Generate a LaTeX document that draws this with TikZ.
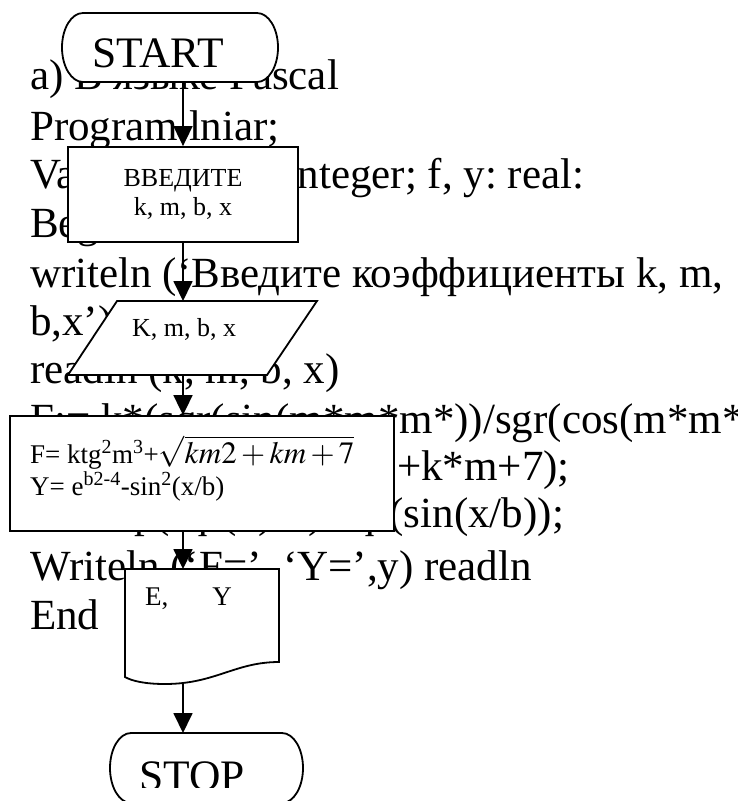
\documentclass[tikz,border=0pt]{standalone}
\usepackage{mathptmx}
\usepackage{fontspec}
\setmainfont{Liberation Serif}
\usetikzlibrary{arrows.meta}
\frenchspacing

\begin{document}
\begin{tikzpicture}[x=1pt,y=-1pt,
  code/.style={anchor=base west, inner sep=0pt, font=\fontsize{43}{48}\selectfont},
  shapeline/.style={draw, line width=1.8pt, fill=white},
  ghost/.style={inner sep=0pt, outer sep=0pt},
  small/.style={font=\fontsize{26}{29}\selectfont},
  formula/.style={anchor=base west, inner sep=0pt, font=\fontsize{27}{30}\selectfont},
  termtext/.style={anchor=base west, inner sep=0pt, font=\fontsize{43.5}{44}\selectfont},
  flow/.style={line width=1.8pt, -{Triangle[length=20pt,width=19pt]}},
]
\useasboundingbox (0,0) rectangle (738,801);

% Pascal listing behind the flowchart
\node[code] (l1) at (30,89) {a) В языке Pascal};
\node[code] (l2) at (30,140) {Program lniar;};
\node[code] (l3) at (30,188) {Var k, m, b, x: integer; f, y: real:};
\node[code] (l4) at (30,237) {Begin};
\node[code] (l5) at (30,287) {writeln (‘Введите коэффициенты k, m,};
\node[code] (l6) at (30,335) {b,x’);};
\node[code] (l7) at (30,383) {readln (k, m, b, x)};
\node[code] (l8) at (30,433) {F:= k*(sqr(sin(m*m*m*))/sgr(cos(m*m*};
\node[code] (l9) at (397,480) {+k*m+7);};
\node[code] (l10) at (30,527) {Y:=exp(sqr(b)-4)-sqr(sin(x/b));};
\node[code] (l11) at (30,580) {Writeln (‘F=’, ‘Y=’,y) readln};
\node[code] (l12) at (30,629) {End};

% START terminal
\path[shapeline] (83,13) -- (257,13)
  arc[start angle=-90,end angle=90,x radius=21,y radius=34.5] -- (83,82)
  arc[start angle=90,end angle=270,x radius=21,y radius=34.5] -- cycle;
\node[ghost, minimum width=216pt, minimum height=69pt] (start) at (170,47.5) {};
\node[termtext] (starttext) at (92,67) {START};

% input prompt
\node[shapeline, minimum width=230pt, minimum height=95pt, small, align=center, inner sep=0pt]
  (box1) at (183,194.5) {ВВЕДИТЕ\\k, m, b, x};

% data input parallelogram
\path[shapeline] (117,301) -- (317,301) -- (267,375) -- (68,375) -- cycle;
\node[ghost, minimum width=249pt, minimum height=74pt] (input) at (192.5,338) {};
\node[small, anchor=base, inner sep=0pt] (inputtext) at (184,336) {K, m, b, x};

% computation block
\node[shapeline, minimum width=384pt, minimum height=115pt, inner sep=0pt] (calc) at (202,473.5) {};
\node[formula] (ftext) at (30,463)
  {F= ktg\textsuperscript{2}m\textsuperscript{3}+{\fontsize{31}{31}\selectfont$\sqrt{km2+km+7}$}};
\node[formula] (ytext) at (30,495) {Y= e\textsuperscript{b2-4}-sin\textsuperscript{2}(x/b)};

% output document
\path[shapeline] (125,569) -- (279,569) -- (279,662)
  .. controls (235,662) and (215,684) .. (165,684)
  .. controls (145,684) and (132,681) .. (125,677) -- cycle;
\node[ghost, minimum width=154pt, minimum height=115pt] (output) at (202,626.5) {};
\node[formula] (outtext) at (145,605) {E,\hspace{44pt}Y};

% STOP terminal
\path[shapeline] (131,733) -- (282,733)
  arc[start angle=-90,end angle=90,x radius=21,y radius=35] -- (131,803)
  arc[start angle=90,end angle=270,x radius=21,y radius=35] -- cycle;
\node[ghost, minimum width=193pt, minimum height=70pt] (stop) at (206.5,768) {};
\begin{scope}
  \clip (0,0) rectangle (738,787);
  \node[termtext] (stoptext) at (139,790) {STOP};
\end{scope}

% connectors
\coordinate (axis) at (183,0);
\draw[flow] (start.south -| axis) -- (box1.north -| axis);
\draw[flow] (box1.south -| axis) -- (input.north -| axis);
\draw[flow] (input.south -| axis) -- (calc.north -| axis);
\draw[flow] (calc.south -| axis) -- (output.north -| axis);
\draw[flow] (output.south -| axis) -- (stop.north -| axis);
\end{tikzpicture}
\end{document}
